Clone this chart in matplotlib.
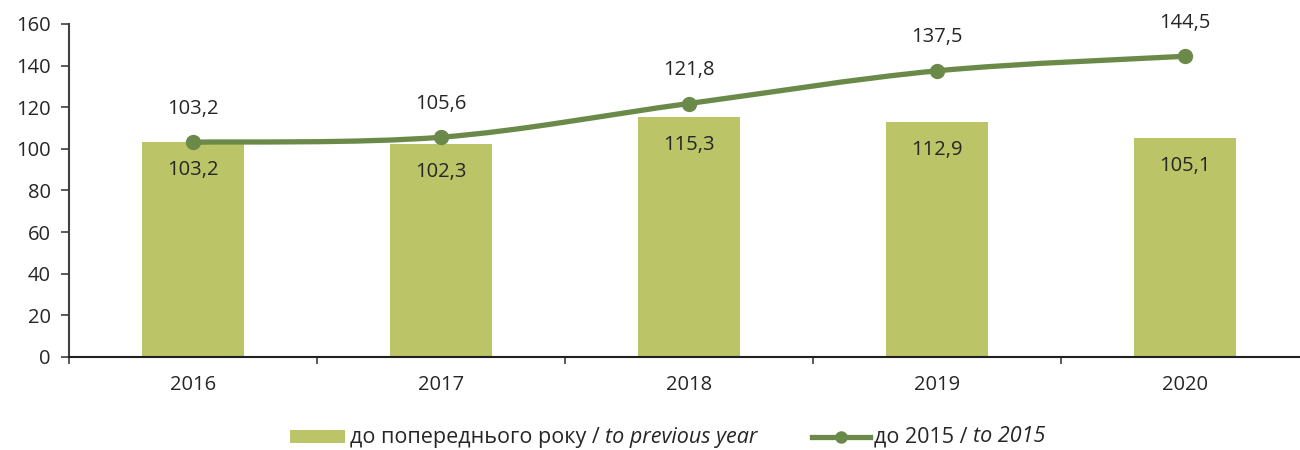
import matplotlib
matplotlib.use("Agg")
import matplotlib.pyplot as plt
import numpy as np
from matplotlib.path import Path
from matplotlib.patches import PathPatch, Rectangle
from matplotlib.lines import Line2D

years = ["2016", "2017", "2018", "2019", "2020"]
prev_year = [103.2, 102.3, 115.3, 112.9, 105.1]
to_2015 = [103.2, 105.6, 121.8, 137.5, 144.5]
yticks = [0, 20, 40, 60, 80, 100, 120, 140, 160]
legend_plain = ["до попереднього року / ", "до 2015 / "]
legend_italic = ["to previous year", "to 2015"]

bar_color = "#BBC466"
line_color = "#6B8A4A"
text_color = "#262626"

plt.rcParams['font.family'] = ['Open Sans', 'DejaVu Sans']

fig = plt.figure(figsize=(13, 4.5), dpi=100)
ax = fig.add_axes([69/1300, 1-357/450, 1240/1300, 333/450])

x = np.arange(len(years))
ax.bar(x, prev_year, width=0.41, color=bar_color, zorder=2)

# smooth line (bezier through the data points)
pts = list(zip(x.astype(float), to_2015))
verts = [pts[0]]
codes = [Path.MOVETO]
t = 1/6
for i in range(len(pts)-1):
    p0 = pts[i-1] if i > 0 else pts[i]
    p1 = pts[i]
    p2 = pts[i+1]
    p3 = pts[i+2] if i+2 < len(pts) else pts[i+1]
    c1 = (p1[0] + (p2[0]-p0[0])*t, p1[1] + (p2[1]-p0[1])*t)
    c2 = (p2[0] - (p3[0]-p1[0])*t, p2[1] - (p3[1]-p1[1])*t)
    verts += [c1, c2, p2]
    codes += [Path.CURVE4]*3
ax.add_patch(PathPatch(Path(verts, codes), facecolor='none', edgecolor=line_color,
                       lw=3.8, zorder=3, capstyle='round'))
ax.plot(x, to_2015, 'o', color=line_color, ms=10, zorder=4)

fs = 14.5
for xi, v in zip(x, to_2015):
    ax.annotate(f"{v:.1f}".replace('.', ','), (xi, v), xytext=(0, 17),
                textcoords='offset points', ha='center', va='bottom',
                fontsize=fs, color=text_color)
for xi, v in zip(x, prev_year):
    ax.annotate(f"{v:.1f}".replace('.', ','), (xi, v), xytext=(0, -13),
                textcoords='offset points', ha='center', va='top',
                fontsize=fs, color=text_color, zorder=5)

ax.set_xlim(-0.5, len(years)-0.5)
ax.set_ylim(0, 160)
ax.set_yticks(yticks)
ax.set_yticklabels([str(v) for v in yticks], fontsize=fs, color=text_color)
ax.set_xticks(x)
ax.set_xticklabels(years, fontsize=fs, color=text_color)
ax.set_xticks(np.arange(-0.5, len(years)), minor=True)
ax.tick_params(axis='x', which='major', length=0, pad=13)
ax.tick_params(axis='x', which='minor', length=5, width=1.2, color='#404040')
ax.tick_params(axis='y', length=6, width=1.2, color='#404040', pad=7)
for s in ['top', 'right']:
    ax.spines[s].set_visible(False)
ax.spines['left'].set_color('#404040')
ax.spines['left'].set_linewidth(1.5)
ax.spines['bottom'].set_color('#202020')
ax.spines['bottom'].set_linewidth(1.5)

# manual legend
W, H = 1300, 450
ly = 1 - 437/H
fig.patches.append(Rectangle((290/W, ly - 6/H), 55/W, 13/H, transform=fig.transFigure,
                             facecolor=bar_color, edgecolor='none'))
fig.lines.append(Line2D([812/W, 870/W], [ly, ly], transform=fig.transFigure,
                        color=line_color, lw=3.8, marker=None))
fig.lines.append(Line2D([841/W], [ly], transform=fig.transFigure,
                        color=line_color, marker='o', ms=8, lw=0))
lfs = 15.5
renderer = fig.canvas.get_renderer()
for xstart, plain, ital in [(350, legend_plain[0], legend_italic[0]),
                            (874, legend_plain[1], legend_italic[1])]:
    t1 = fig.text(xstart/W, ly, plain, fontsize=lfs, color=text_color,
                  ha='left', va='center')
    bb = t1.get_window_extent(renderer)
    fig.text((bb.x1)/W, ly, ital, fontsize=lfs, color=text_color,
             ha='left', va='center', style='italic')

fig.savefig("out.png", dpi=100)
